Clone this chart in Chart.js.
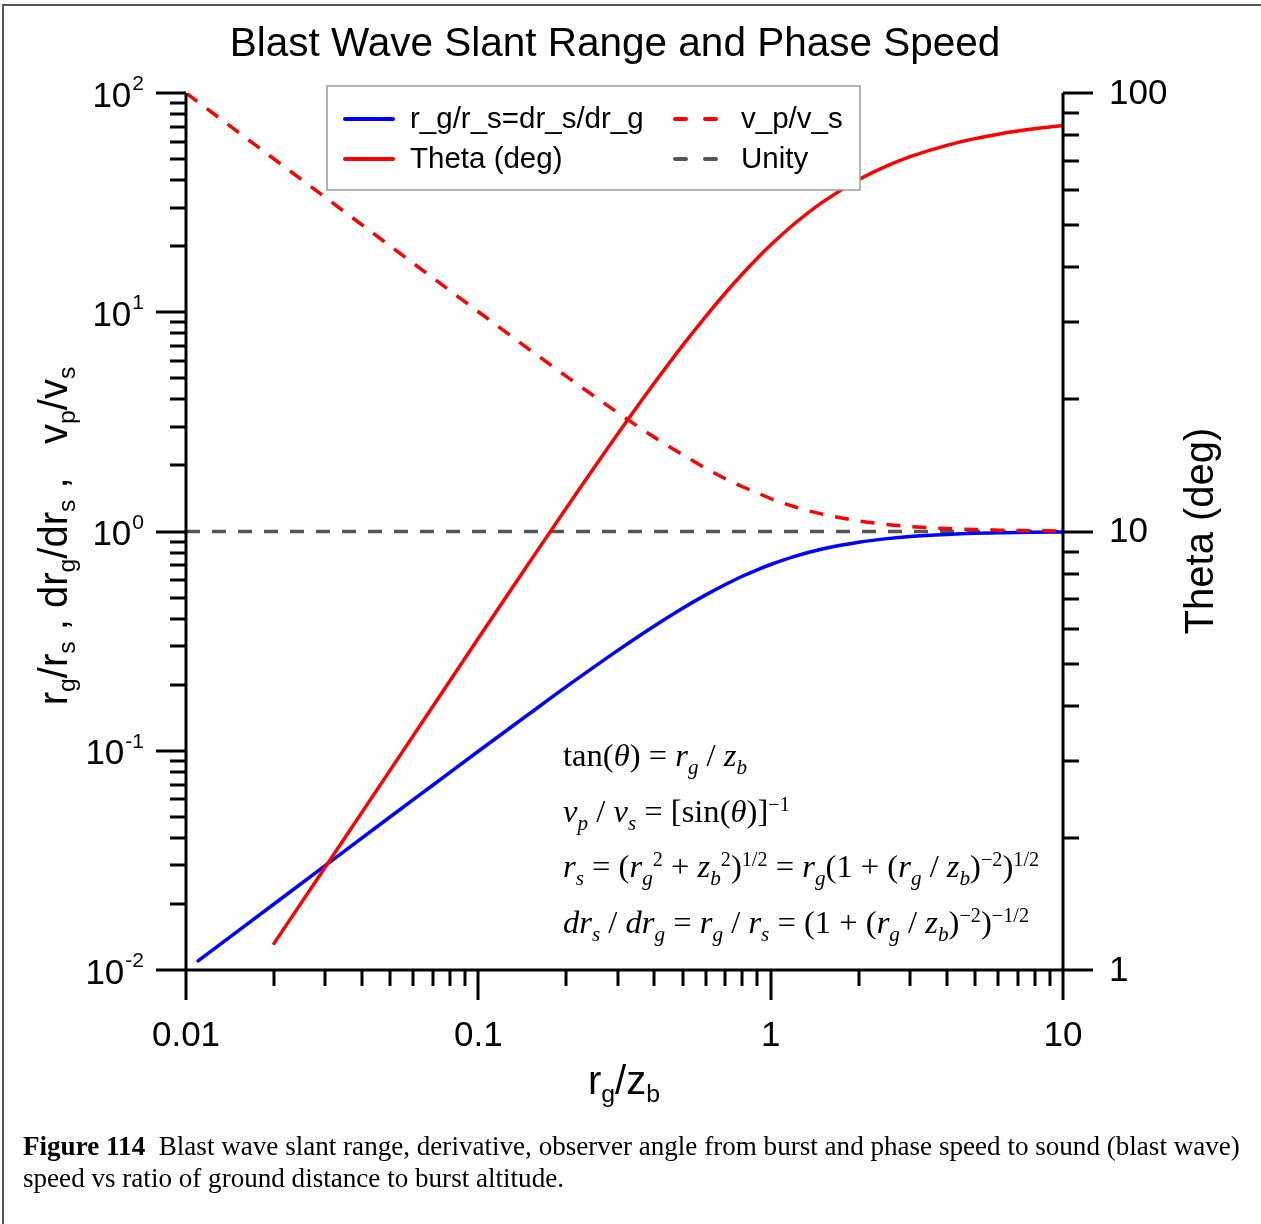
<!DOCTYPE html>
<html>
<head>
<meta charset="utf-8">
<script src="https://cdn.jsdelivr.net/npm/chart.js@4/dist/chart.umd.min.js"></script>
<style>
  html, body { margin: 0; padding: 0; background: #fff; }
  #wrap { position: relative; width: 1261px; height: 1224px; overflow: hidden; }
  #c { position: absolute; left: 0; top: 0; }
  .frame { position: absolute; left: 2px; top: 4px; width: 1270px; height: 1240px; border-top: 2px solid #555; border-left: 2px solid #555; }
  .sans { font-family: "Liberation Sans", Arial, sans-serif; color: #000; }
  .rot { position: absolute; white-space: nowrap; transform: translate(-50%, -50%) rotate(-90deg); }
  .xt { position: absolute; white-space: nowrap; transform: translate(-50%, -50%); }
  sub.s { font-size: 0.62em; vertical-align: -0.35em; line-height: 0; }
  #eq { position: absolute; left: 563px; top: 728px; font-family: "Liberation Serif", "Times New Roman", serif; font-size: 32.6px; color: #000; line-height: 55.5px; white-space: nowrap; }
  #eq i { font-style: italic; }
  #eq sub { font-size: 0.65em; vertical-align: -0.4em; line-height: 0; font-style: italic; }
  #eq sup { font-size: 0.62em; vertical-align: 0.55em; line-height: 0; }
  #cap { position: absolute; left: 23px; top: 1130px; width: 1238px; font-family: "Liberation Serif", "Times New Roman", serif; font-size: 27.1px; line-height: 32px; color: #000; white-space: nowrap; }
</style>
</head>
<body>
<div id="wrap">
  <canvas id="c" width="1261" height="1224"></canvas>
  <div class="frame"></div>
  <div class="rot sans" style="left:53px; top:536px; font-size:40px;">r<sub class="s">g</sub>/r<sub class="s">s</sub> , dr<sub class="s">g</sub>/dr<sub class="s">s</sub> ,&nbsp;&nbsp; v<sub class="s">p</sub>/v<sub class="s">s</sub></div>
  <div class="rot sans" style="left:1199px; top:531px; font-size:40px;">Theta (deg)</div>
  <div class="xt sans" style="left:624px; top:1080px; font-size:40px;">r<sub class="s">g</sub>/z<sub class="s">b</sub></div>
  <div id="eq">
    <div>tan(<i>θ</i>) = <i>r</i><sub>g</sub> / <i>z</i><sub>b</sub></div>
    <div><i>v</i><sub>p</sub> / <i>v</i><sub>s</sub> = [sin(<i>θ</i>)]<sup>−1</sup></div>
    <div><i>r</i><sub>s</sub> = (<i>r</i><sub>g</sub><sup>2</sup> + <i>z</i><sub>b</sub><sup>2</sup>)<sup>1/2</sup> = <i>r</i><sub>g</sub>(1 + (<i>r</i><sub>g</sub> / <i>z</i><sub>b</sub>)<sup>−2</sup>)<sup>1/2</sup></div>
    <div><i>dr</i><sub>s</sub> / <i>dr</i><sub>g</sub> = <i>r</i><sub>g</sub> / <i>r</i><sub>s</sub> = (1 + (<i>r</i><sub>g</sub> / <i>z</i><sub>b</sub>)<sup>−2</sup>)<sup>−1/2</sup></div>
  </div>
  <div id="cap"><b>Figure 114</b>&nbsp; Blast wave slant range, derivative, observer angle from burst and phase speed to sound (blast wave)<br>speed vs ratio of ground distance to burst altitude.</div>
</div>
<script>
// ---- data ----
const titleText = "Blast Wave Slant Range and Phase Speed";

const vpRatio = [0.01, 0.015, 0.02, 0.03, 0.05, 0.07, 0.1, 0.15, 0.2, 0.3, 0.4, 0.5, 0.6, 0.7, 0.8, 0.9, 1, 1.2, 1.5, 2, 2.5, 3, 4, 5, 6, 7, 8, 10];
const vpValues = [100.0, 66.67, 50.01, 33.35, 20.02, 14.32, 10.05, 6.74, 5.10, 3.48, 2.69, 2.24, 1.94, 1.74, 1.60, 1.50, 1.414, 1.30, 1.20, 1.118, 1.077, 1.054, 1.031, 1.020, 1.014, 1.010, 1.008, 1.005];

const rgRatio = [0.011, 0.015, 0.02, 0.03, 0.05, 0.07, 0.1, 0.15, 0.2, 0.3, 0.4, 0.5, 0.6, 0.7, 0.8, 0.9, 1, 1.2, 1.5, 2, 2.5, 3, 4, 5, 6, 7, 8, 10];
const rgValues = [0.011, 0.015, 0.020, 0.030, 0.050, 0.0698, 0.0995, 0.148, 0.196, 0.287, 0.371, 0.447, 0.514, 0.573, 0.625, 0.669, 0.707, 0.768, 0.832, 0.894, 0.928, 0.949, 0.970, 0.981, 0.986, 0.990, 0.992, 0.995];

const thetaRatio = [0.02, 0.03, 0.05, 0.07, 0.1, 0.15, 0.2, 0.3, 0.4, 0.5, 0.6, 0.7, 0.8, 0.9, 1, 1.2, 1.5, 2, 2.5, 3, 4, 5, 6, 7, 8, 10];
const thetaValues = [1.15, 1.72, 2.86, 4.00, 5.71, 8.53, 11.31, 16.70, 21.80, 26.57, 30.96, 34.99, 38.66, 41.99, 45.0, 50.19, 56.31, 63.43, 68.20, 71.57, 75.96, 78.69, 80.54, 81.87, 82.87, 84.29];

const unityRatio = [0.01, 10];
const unityValues = [1, 1];

const xTickValues = [0.01, 0.1, 1, 10];
const xTickLabels = ["0.01", "0.1", "1", "10"];
const leftExponents = [-2, -1, 0, 1, 2];
const leftExpLabels = ["-2", "-1", "0", "1", "2"];
const rightTickValues = [1, 10, 100];
const rightTickLabels = ["1", "10", "100"];

const legendLabels = ["r_g/r_s=dr_s/dr_g", "Theta (deg)", "v_p/v_s", "Unity"];

function pts(xs, ys) { return xs.map((x, i) => ({ x: x, y: ys[i] })); }

const SANS = '"Liberation Sans", Arial, sans-serif';

const decorPlugin = {
  id: 'decor',
  afterDatasetsDraw(chart) {
    const ctx = chart.ctx;
    const a = chart.chartArea;
    const sx = chart.scales.x, sy = chart.scales.y, sy2 = chart.scales.y2;
    ctx.save();
    ctx.strokeStyle = '#000';
    ctx.lineWidth = 3;
    ctx.lineCap = 'butt';
    // axis lines
    ctx.beginPath();
    ctx.moveTo(a.left, a.top); ctx.lineTo(a.left, a.bottom);
    ctx.moveTo(a.right, a.top); ctx.lineTo(a.right, a.bottom);
    ctx.moveTo(a.left, a.bottom); ctx.lineTo(a.right, a.bottom);
    ctx.stroke();
    const MAJ = 30, MIN = 16;
    ctx.beginPath();
    // bottom ticks (decades 0.01..1, minor 2..9)
    for (let e = -2; e <= 0; e++) {
      const base = Math.pow(10, e);
      for (let k = 1; k <= 9; k++) {
        const px = Math.round(sx.getPixelForValue(base * k));
        const len = k === 1 ? MAJ : MIN;
        ctx.moveTo(px, a.bottom); ctx.lineTo(px, a.bottom + len);
      }
    }
    { const px = Math.round(sx.getPixelForValue(10)); ctx.moveTo(px, a.bottom); ctx.lineTo(px, a.bottom + MAJ); }
    // left ticks
    for (let e = -2; e <= 1; e++) {
      const base = Math.pow(10, e);
      for (let k = 1; k <= 9; k++) {
        const py = Math.round(sy.getPixelForValue(base * k));
        const len = k === 1 ? MAJ : MIN;
        ctx.moveTo(a.left, py); ctx.lineTo(a.left - len, py);
      }
    }
    { const py = sy.getPixelForValue(100); ctx.moveTo(a.left, py); ctx.lineTo(a.left - MAJ, py); }
    // right ticks
    for (let e = 0; e <= 1; e++) {
      const base = Math.pow(10, e);
      for (let k = 1; k <= 9; k++) {
        const py = Math.round(sy2.getPixelForValue(base * k));
        const len = k === 1 ? MAJ : MIN;
        ctx.moveTo(a.right, py); ctx.lineTo(a.right + len, py);
      }
    }
    { const py = sy2.getPixelForValue(100); ctx.moveTo(a.right, py); ctx.lineTo(a.right + MAJ, py); }
    ctx.stroke();

    // tick labels
    ctx.fillStyle = '#000';
    ctx.font = '35px ' + SANS;
    ctx.textBaseline = 'middle';
    ctx.textAlign = 'center';
    xTickValues.forEach((v, i) => {
      ctx.fillText(xTickLabels[i], sx.getPixelForValue(v), a.bottom + 66);
    });
    ctx.textAlign = 'left';
    rightTickValues.forEach((v, i) => {
      ctx.fillText(rightTickLabels[i], a.right + 46, sy2.getPixelForValue(v) + 1);
    });
    leftExponents.forEach((e, i) => {
      const py = sy.getPixelForValue(Math.pow(10, e));
      const expStr = leftExpLabels[i];
      ctx.font = '21px ' + SANS;
      ctx.textAlign = 'right';
      ctx.textBaseline = 'alphabetic';
      const xr = a.left - 42;
      ctx.fillText(expStr, xr, py - 3);
      const w = ctx.measureText(expStr).width;
      ctx.font = '35px ' + SANS;
      ctx.textBaseline = 'middle';
      ctx.fillText('10', xr - w - 1, py + 4);
    });

    // title
    ctx.font = '40.5px ' + SANS;
    ctx.textAlign = 'center';
    ctx.textBaseline = 'middle';
    ctx.fillText(titleText, 615, 45);

    // legend
    ctx.fillStyle = '#fff';
    ctx.fillRect(327, 86, 533, 104);
    ctx.strokeStyle = '#9a9a9a';
    ctx.lineWidth = 1.5;
    ctx.strokeRect(327, 86, 533, 104);
    const ds = chart.data.datasets;
    const items = [
      { d: ds[2], x: 343, y: 119, tx: 410 },
      { d: ds[1], x: 343, y: 159, tx: 410 },
      { d: ds[0], x: 673, y: 119, tx: 741 },
      { d: ds[3], x: 673, y: 159, tx: 741 }
    ];
    ctx.font = '29.5px ' + SANS;
    ctx.textAlign = 'left';
    ctx.textBaseline = 'middle';
    items.forEach(it => {
      ctx.save();
      ctx.strokeStyle = it.d.borderColor;
      ctx.lineWidth = 4;
      ctx.lineCap = 'round';
      const dashed = it.d.borderDash && it.d.borderDash.length;
      ctx.beginPath();
      if (dashed) {
        ctx.moveTo(it.x + 2, it.y); ctx.lineTo(it.x + 13, it.y);
        ctx.moveTo(it.x + 32, it.y); ctx.lineTo(it.x + 43, it.y);
      } else {
        ctx.moveTo(it.x + 2, it.y); ctx.lineTo(it.x + 50, it.y);
      }
      ctx.stroke();
      ctx.restore();
      ctx.fillStyle = '#000';
      ctx.fillText(it.d.label, it.tx, it.y + 1);
    });
    ctx.restore();
  }
};

new Chart(document.getElementById('c'), {
  type: 'line',
  data: {
    datasets: [
      { label: legendLabels[2], data: pts(vpRatio, vpValues), yAxisID: 'y', borderColor: '#ff0000', borderWidth: 3.5, borderDash: [14, 12], pointRadius: 0, cubicInterpolationMode: 'monotone', fill: false },
      { label: legendLabels[1], data: pts(thetaRatio, thetaValues), yAxisID: 'y2', borderColor: '#ff0000', borderWidth: 3.5, pointRadius: 0, cubicInterpolationMode: 'monotone', fill: false, borderCapStyle: 'round' },
      { label: legendLabels[0], data: pts(rgRatio, rgValues), yAxisID: 'y', borderColor: '#0000ff', borderWidth: 3.5, pointRadius: 0, cubicInterpolationMode: 'monotone', fill: false, borderCapStyle: 'round' },
      { label: legendLabels[3], data: pts(unityRatio, unityValues), yAxisID: 'y', borderColor: '#555555', borderWidth: 3.5, borderDash: [14, 12], pointRadius: 0, fill: false }
    ]
  },
  options: {
    responsive: false,
    devicePixelRatio: 1,
    animation: false,
    events: [],
    layout: { padding: { left: 186, top: 93, right: 198, bottom: 254 } },
    scales: {
      x: { type: 'logarithmic', min: 0.01, max: 10, display: false },
      y: { type: 'logarithmic', min: 0.01, max: 100, display: false },
      y2: { type: 'logarithmic', min: 1, max: 100, display: false, position: 'right' }
    },
    plugins: { legend: { display: false }, tooltip: { enabled: false }, title: { display: false } }
  },
  plugins: [decorPlugin]
});
</script>
</body>
</html>
